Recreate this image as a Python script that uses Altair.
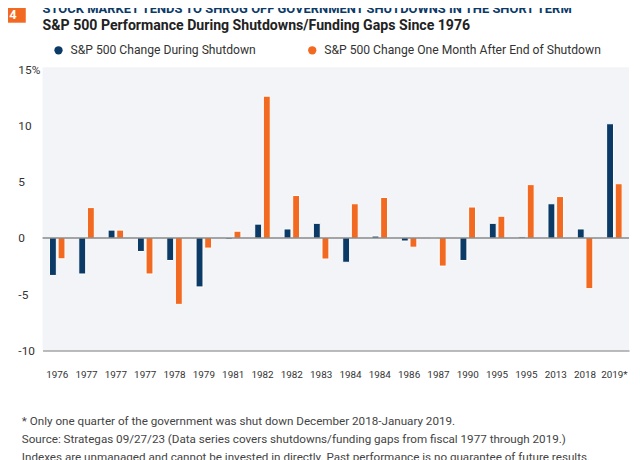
import altair as alt
import pandas as pd

# ---- data ----
years = ["1976", "1977", "1977", "1977", "1978", "1979", "1981", "1982", "1982", "1983",
         "1984", "1984", "1986", "1987", "1990", "1995", "1995", "2013", "2018", "2019*"]
during = [-3.33, -3.2, 0.7, -1.2, -2.0, -4.35, -0.1, 1.23, 0.8, 1.3,
          -2.16, 0.17, -0.27, 0.0, -2.0, 1.3, 0.1, 3.04, 0.8, 10.15]
after = [-1.85, 2.7, 0.7, -3.2, -5.9, -0.9, 0.6, 12.6, 3.77, -1.87,
         3.04, 3.6, -0.82, -2.5, 2.75, 1.93, 4.74, 3.68, -4.5, 4.82]
series_names = ["S&P 500 Change During Shutdown",
                "S&P 500 Change One Month After End of Shutdown"]
y_ticks = [-10, -5, 0, 5, 10, 15]

title_txt = "STOCK MARKET TENDS TO SHRUG OFF GOVERNMENT SHUTDOWNS IN THE SHORT TERM"
subtitle_txt = "S&P 500 Performance During Shutdowns/Funding Gaps Since 1976"
notes = [
    "* Only one quarter of the government was shut down December 2018-January 2019.",
    "Source: Strategas 09/27/23  (Data series covers shutdowns/funding gaps from fiscal 1977 through 2019.)",
    "Indexes are unmanaged and cannot be invested in directly. Past performance is no guarantee of future results.",
]

NAVY = "#0c3a67"
ORANGE = "#f26a22"
FONT = "Roboto"

rows = []
for i, y in enumerate(years):
    rows.append({"idx": i, "series": series_names[0], "value": during[i]})
    rows.append({"idx": i, "series": series_names[1], "value": after[i]})
df = pd.DataFrame(rows)

label_array = "[" + ",".join("'" + y + "'" for y in years) + "]"

bars = alt.Chart(df).mark_bar(stroke="white", strokeWidth=1).encode(
    x=alt.X("idx:O",
            scale=alt.Scale(paddingInner=0, paddingOuter=0),
            axis=alt.Axis(labelExpr=label_array + "[datum.value]", labelAngle=0,
                          ticks=False, domainColor="#777777", domainWidth=1,
                          labelFontSize=10, labelFont=FONT, labelColor="#333333",
                          labelPadding=19, title=None, grid=False)),
    xOffset=alt.XOffset("series:N", sort=series_names,
                        scale=alt.Scale(paddingInner=0.2, paddingOuter=0.8)),
    y=alt.Y("value:Q",
            scale=alt.Scale(domain=[-10, 15.18], nice=False, zero=False),
            axis=alt.Axis(values=y_ticks,
                          labelExpr="datum.value == 15 ? '15%' : datum.value",
                          labelAlign="left", labelPadding=25, ticks=False,
                          domain=False, grid=False, title=None,
                          labelFontSize=12, labelFont=FONT, labelColor="#333333")),
    color=alt.Color("series:N", sort=series_names,
                    scale=alt.Scale(domain=series_names, range=[NAVY, ORANGE]),
                    legend=alt.Legend(orient="none", legendX=10, legendY=-23.5,
                                      direction="horizontal", columns=2, title=None,
                                      symbolType="circle", symbolSize=70,
                                      symbolStrokeWidth=0, labelFontSize=12.3,
                                      labelFont=FONT, labelColor="#333333",
                                      labelLimit=0,
                                      columnPadding=50, labelOffset=6, padding=0)),
)

zero = alt.Chart(pd.DataFrame({"z": [0]})).mark_rule(color="#555555", strokeWidth=1.2).encode(
    y="z:Q"
)

def txt(text, x, y, size, color, weight="normal", align="left", font=FONT):
    return alt.Chart(pd.DataFrame({"t": [text]})).mark_text(
        align=align, baseline="alphabetic", fontSize=size, font=font,
        fontWeight=weight, color=color
    ).encode(text="t:N", x=alt.value(x), y=alt.value(y))

box = alt.Chart(pd.DataFrame({"t": ["4"]})).mark_rect(color=ORANGE).encode(
    x=alt.value(-43), x2=alt.value(-17), y=alt.value(-65), y2=alt.value(-45)
)

layers = [
    bars, zero, box,
    txt("4", -30, -49, 13, "white", "bold", "center"),
    txt(title_txt, 0, -55, 13.1, NAVY, "bold"),
    txt(subtitle_txt, 0, -38, 14.3, "#222222", "bold"),
    txt(notes[0], -21, 362, 11.8, "#444444"),
    txt(notes[1], -21, 381, 11.8, "#444444"),
    txt(notes[2], -21, 399, 11.8, "#444444"),
]

chart = alt.layer(*layers).properties(
    width=594, height=287,
    padding={"left": 35, "top": 57, "right": 3, "bottom": 108},
    autosize=alt.AutoSizeParams(type="none"),
    background="white",
).configure_view(stroke=None, fill="#f2f4f7")

chart.save("out.html", embed_options={"renderer": "svg", "actions": False})
